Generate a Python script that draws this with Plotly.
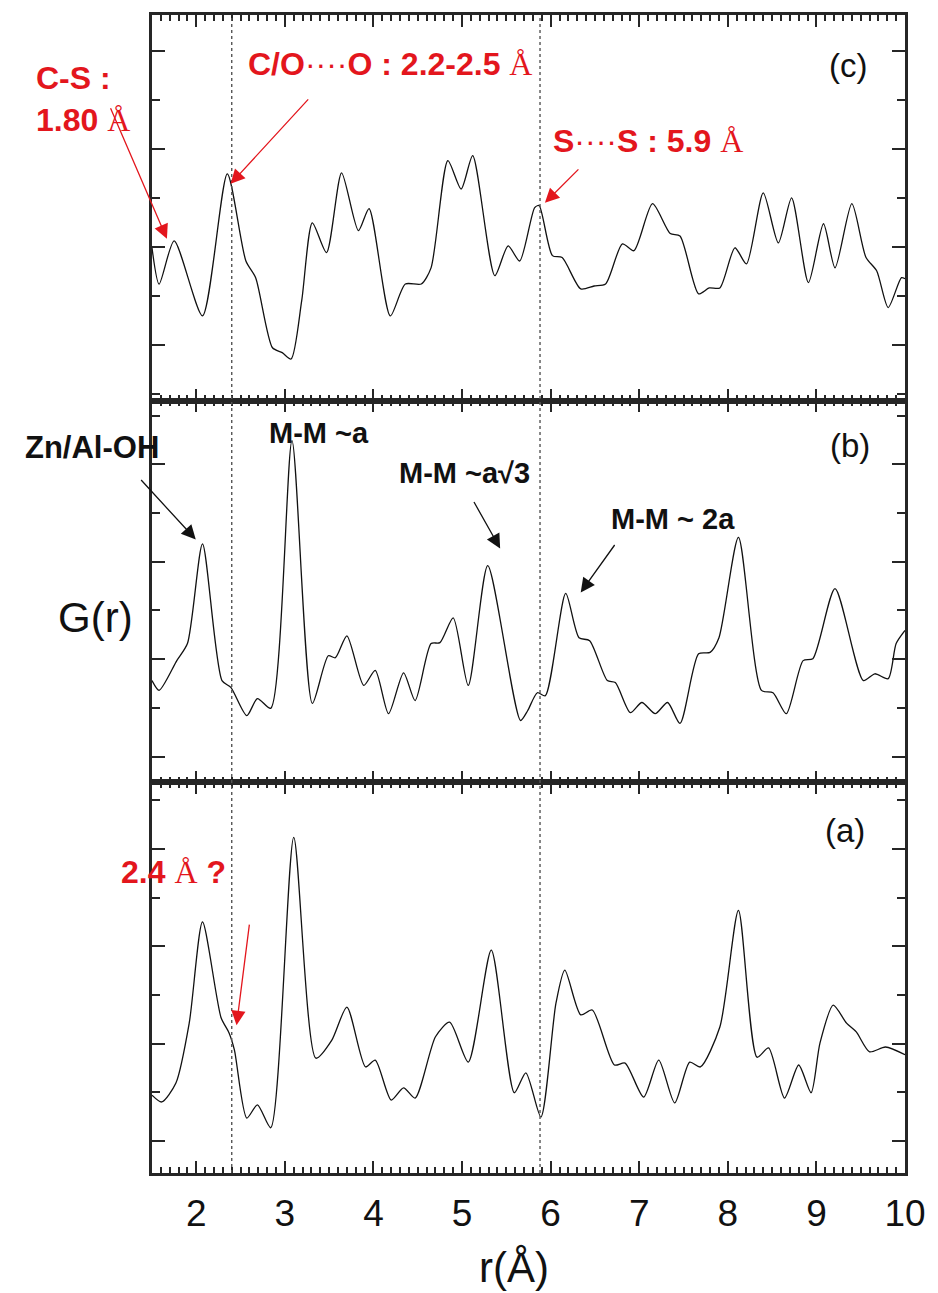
import plotly.graph_objects as go
from plotly.subplots import make_subplots

# ---------------- data (r in Å, G(r) in arbitrary units) ----------------
r_c = [1.5, 1.58, 1.75, 2.07, 2.35, 2.56, 2.67, 2.86, 2.97, 3.07, 3.19, 3.31, 3.47, 3.64, 3.83, 3.95,
       4.19, 4.36, 4.54, 4.65, 4.84, 4.99, 5.12, 5.37, 5.52, 5.65, 5.82, 5.87, 6.02, 6.13, 6.34, 6.49,
       6.62, 6.81, 6.94, 7.15, 7.35, 7.46, 7.67, 7.79, 7.91, 8.08, 8.21, 8.40, 8.57, 8.72, 8.91, 9.08,
       9.21, 9.40, 9.56, 9.68, 9.81, 9.96, 10.0]
g_c = [1.98, 1.24, 2.12, 0.59, 3.49, 1.71, 1.37, -0.06, -0.16, -0.29, 0.90, 2.49, 1.88, 3.51, 2.33, 2.78,
       0.59, 1.24, 1.24, 1.57, 3.76, 3.18, 3.86, 1.41, 2.02, 1.71, 2.80, 2.84, 1.82, 1.78, 1.14, 1.20,
       1.24, 2.06, 1.92, 2.88, 2.27, 2.22, 1.04, 1.16, 1.16, 1.98, 1.65, 3.10, 2.08, 3.00, 1.27, 2.47,
       1.57, 2.88, 1.78, 1.51, 0.76, 1.37, 1.35]

r_b = [1.5, 1.58, 1.78, 1.90, 2.07, 2.29, 2.39, 2.57, 2.69, 2.84, 3.08, 3.31, 3.49, 3.57, 3.70, 3.89,
       4.02, 4.17, 4.34, 4.47, 4.65, 4.75, 4.90, 5.07, 5.29, 5.66, 5.74, 5.85, 5.94, 6.17, 6.32, 6.44,
       6.64, 6.73, 6.90, 7.03, 7.18, 7.32, 7.46, 7.67, 7.80, 7.90, 8.12, 8.38, 8.51, 8.66, 8.85, 8.96,
       9.21, 9.53, 9.66, 9.81, 9.90, 10.0]
g_b = [1.56, 1.36, 1.97, 2.32, 4.37, 1.56, 1.42, 0.84, 1.19, 0.99, 6.49, 1.09, 2.07, 2.03, 2.48, 1.46,
       1.77, 0.88, 1.72, 1.15, 2.32, 2.34, 2.85, 1.46, 3.92, 0.74, 0.94, 1.31, 1.25, 3.35, 2.44, 2.38,
       1.56, 1.52, 0.90, 1.11, 0.88, 1.11, 0.68, 2.11, 2.14, 2.44, 4.50, 1.36, 1.31, 0.88, 1.97, 2.01,
       3.45, 1.56, 1.70, 1.60, 2.32, 2.59]

r_a = [1.5, 1.61, 1.77, 1.92, 2.07, 2.28, 2.37, 2.43, 2.57, 2.69, 2.84, 3.10, 3.35, 3.53, 3.70, 3.91,
       4.02, 4.20, 4.34, 4.47, 4.70, 4.86, 5.07, 5.33, 5.59, 5.72, 5.89, 6.06, 6.16, 6.34, 6.47, 6.72,
       6.84, 7.05, 7.22, 7.40, 7.57, 7.69, 7.91, 8.12, 8.33, 8.46, 8.64, 8.80, 8.94, 9.04, 9.19, 9.34,
       9.45, 9.60, 9.78, 10.0]
g_a = [0.94, 0.80, 1.19, 2.42, 4.50, 2.53, 2.22, 1.87, 0.47, 0.74, 0.27, 6.24, 1.70, 2.07, 2.75, 1.52,
       1.66, 0.84, 1.09, 0.88, 2.14, 2.44, 1.62, 3.92, 0.99, 1.40, 0.49, 2.83, 3.51, 2.59, 2.69, 1.56,
       1.60, 0.90, 1.66, 0.78, 1.62, 1.52, 2.34, 4.74, 1.72, 1.91, 0.88, 1.56, 0.99, 2.01, 2.79, 2.42,
       2.24, 1.83, 1.93, 1.77]

x_ticks = [2, 3, 4, 5, 6, 7, 8, 9, 10]
v_lines = [2.4, 5.88]
panel_labels = ["(c)", "(b)", "(a)"]

RED = "#e3161d"
AX = "#262626"

W, H = 938, 1293
L, R, T, B = 152, 909, 14, 1173

fig = make_subplots(rows=3, cols=1, shared_xaxes=True, vertical_spacing=0)

for i, (rr, gg) in enumerate([(r_c, g_c), (r_b, g_b), (r_a, g_a)]):
    fig.add_trace(go.Scatter(x=rr, y=gg, mode="lines",
                             line=dict(color="#111111", width=1.3, shape="spline", smoothing=0.7),
                             showlegend=False, hoverinfo="skip"), row=i + 1, col=1)

def py(Y):
    return (B - Y) / (B - T)

def pxx(X):
    return (X - L) / (R - L)

domains = [[py(400), 1.0], [py(782), py(400)], [0.0, py(782)]]
yranges = [[-1.14, 6.73], [-0.53, 7.31], [-0.66, 7.37]]

for i in range(3):
    n = "" if i == 0 else str(i + 1)
    fig.layout["yaxis" + n].update(
        domain=domains[i], range=yranges[i], showticklabels=False,
        showline=True, linewidth=2.5, linecolor=AX, mirror="allticks",
        ticks="inside", tick0=0, dtick=2, ticklen=13, tickwidth=2, tickcolor=AX,
        minor=dict(ticks="inside", dtick=1, ticklen=8, tickwidth=2, tickcolor=AX),
        showgrid=False, zeroline=False, fixedrange=True)
    fig.layout["xaxis" + n].update(
        range=[1.5, 10], showline=True, linewidth=2.5, linecolor=AX, mirror="allticks",
        ticks="inside", tickvals=x_ticks, ticklen=12, tickwidth=2, tickcolor=AX,
        minor=dict(ticks="inside", dtick=0.1, tick0=1.5, ticklen=6, tickwidth=1.5, tickcolor=AX),
        showgrid=False, zeroline=False, showticklabels=(i == 2), ticklabelstandoff=6,
        tickfont=dict(family="Liberation Sans Narrow, Arial Narrow, Arial", size=37, color="#111"))

shapes = []
for v in v_lines:
    shapes.append(dict(type="line", xref="x3", yref="paper", x0=v, x1=v, y0=0, y1=1,
                       line=dict(color="#555555", width=1.4, dash="dot")))
fig.update_layout(shapes=shapes)

ann = []

def text(X, Y, t, color="#111", size=30, family="Arial"):
    ann.append(dict(xref="paper", yref="paper", x=pxx(X), y=py(Y), text=t, showarrow=False,
                    xanchor="center", yanchor="middle",
                    font=dict(color=color, size=size, family=family)))

def arrow(Xt, Yt, Xh, Yh, color):
    ann.append(dict(xref="paper", yref="paper", x=pxx(Xh), y=py(Yh), text="",
                    showarrow=True, ax=Xt - Xh, ay=Yt - Yh, axref="pixel", ayref="pixel",
                    arrowhead=2, arrowsize=2.2, arrowwidth=1.3, arrowcolor=color, standoff=0))

AA = "<span style='font-family:Liberation Serif;font-weight:normal'>Å</span>"
DOTS = "<span style='font-weight:normal'>····</span>"

# red annotations
text(73, 77, "<b>C-S :</b>", RED, 32)
text(83, 119, "<b>1.80 </b>" + AA, RED, 32)
text(391, 63, "<b>C/O</b>" + DOTS + "<b>O : 2.2-2.5 </b>" + AA, RED, 32)
text(651, 140, "<b>S</b>" + DOTS + "<b>S : 5.9 </b>" + AA, RED, 32)
text(174, 872, "<b>2.4 </b>" + AA + "<b> ?</b>", RED, 32)
arrow(110, 106, 167, 238, RED)
arrow(310, 97, 231, 183, RED)
arrow(582, 167, 547, 202, RED)
arrow(250, 923, 237, 1025, RED)

# black annotations
text(92, 447, "<b>Zn/Al-OH</b>", "#111", 31)
text(320, 432, "<b>M-M ~a</b>", "#111", 29)
text(466, 472, "<b>M-M ~a√3</b>", "#111", 29)
text(676, 518, "<b>M-M ~ 2a</b>", "#111", 29)
arrow(140, 478, 196, 539, "#111")
arrow(475, 500, 502, 548, "#111")
arrow(618, 543, 583, 592, "#111")

# panel labels
text(852, 65, panel_labels[0], "#111", 33)
text(854, 445, panel_labels[1], "#111", 33)
text(849, 830, panel_labels[2], "#111", 33)

# axis titles
text(95, 617, "G(r)", "#111", 42)
text(516, 1268, "r(Å)", "#111", 42)

fig.update_layout(annotations=ann, width=W, height=H,
                  margin=dict(l=L, r=W - R, t=T, b=H - B, pad=0),
                  paper_bgcolor="white", plot_bgcolor="white",
                  font=dict(family="Arial", color="#111"))

fig.write_html("out.html")
